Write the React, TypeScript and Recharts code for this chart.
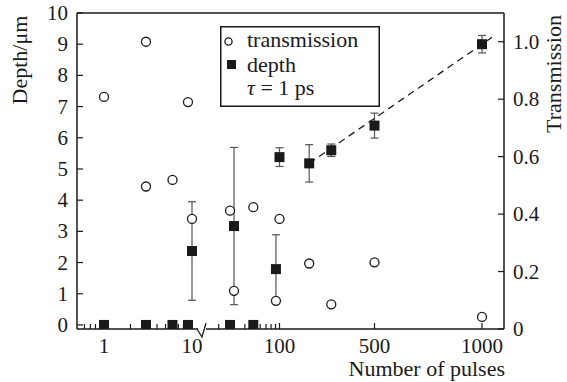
import { ScatterChart, Scatter, XAxis, YAxis, ErrorBar, ReferenceLine, Legend } from 'recharts';

const FONT = '"Liberation Serif", "DejaVu Serif", serif';
const INK = '#1a1a1a';

// число импульсов -> позиция на оси (ось с разрывом, нелинейная)
const majorTicks = [1, 10, 100, 500, 1000];
const minorTicks = [0.6, 0.7, 0.8, 0.9, 2, 3, 4, 5, 6, 7, 8, 9, 20, 30, 40, 50, 60, 70, 80, 90];

// depth (µm), left axis
const depthPulses = [1, 3, 6, 9, 10, 27, 30, 50, 91, 100, 225, 318, 500, 1000];
const depthValues = [0, 0, 0, 0, 2.37, 0, 3.17, 0, 1.79, 5.38, 5.18, 5.6, 6.39, 9.0];
const depthErrors = [0, 0, 0, 0, 1.58, 0, 2.52, 0, 1.1, 0.3, 0.6, 0.2, 0.4, 0.28];

// transmission, right axis
const transPulses = [1, 3, 3, 6, 9, 10, 27, 30, 50, 91, 100, 225, 318, 500, 1000];
const transValues = [0.808, 1.0, 0.496, 0.519, 0.79, 0.383, 0.412, 0.133, 0.424, 0.098, 0.383, 0.228, 0.086, 0.232, 0.042];

// dashed fit
const fitPulses = [225, 1047];
const fitDepth = [5.18, 9.22];

const leftTicks = [0, 1, 2, 3, 4, 5, 6, 7, 8, 9, 10];
const rightTicks = [0, 0.2, 0.4, 0.6, 0.8, 1.0];

const BREAK_POS = 126;

function xPos(n: number): number {
    if (n <= 12) return 27 + 88 * Math.log10(n);
    if (n <= 100) return 202.5 + 87 * Math.log10(n / 100);
    if (n <= 500) return 202.5 + ((n - 100) / 400) * 95;
    return 297.5 + ((n - 500) / 500) * 107.5;
}

const depthData = depthPulses.map((n, i) => ({ u: xPos(n), y: depthValues[i], err: depthErrors[i] }));
const transData = transPulses.map((n, i) => ({ u: xPos(n), y: transValues[i] }));
const fitData = fitPulses.map((n, i) => ({ u: xPos(n), y: fitDepth[i] }));

const tickLabels = new Map<number, string>();
majorTicks.forEach(n => tickLabels.set(xPos(n), String(n)));
const xTicks = [...minorTicks.map(xPos), ...majorTicks.map(xPos), BREAK_POS];

const XTick = (props: any) => {
    const { x, y, payload } = props;
    const v = payload.value;
    if (v === BREAK_POS) {
        return (
            <g>
                <rect x={x - 5} y={y - 2} width={8} height={4} fill="#fff" />
                <polyline
                    points={`${x - 6},${y} ${x - 1},${y + 8} ${x + 3},${y - 6}`}
                    fill="none"
                    stroke={INK}
                    strokeWidth={1.3}
                />
            </g>
        );
    }
    const label = tickLabels.get(v);
    return (
        <g>
            <line x1={x} x2={x} y1={y} y2={y - (label ? 6 : 5)} stroke={INK} strokeWidth={1.2} />
            {label && (
                <text x={x} y={y + 24} textAnchor="middle" fontFamily={FONT} fontSize={21} fill={INK}>
                    {label}
                </text>
            )}
        </g>
    );
};

const LeftTick = (props: any) => {
    const { x, y, payload } = props;
    return (
        <g>
            <line x1={x} x2={x + 6} y1={y} y2={y} stroke={INK} strokeWidth={1.2} />
            <text x={x - 9} y={y + 7} textAnchor="end" fontFamily={FONT} fontSize={21} fill={INK}>
                {payload.value}
            </text>
        </g>
    );
};

const RightTick = (props: any) => {
    const { x, y, payload } = props;
    const v = payload.value;
    return (
        <g>
            <line x1={x - 6} x2={x} y1={y} y2={y} stroke={INK} strokeWidth={1.2} />
            <text x={x + 9} y={y + 7} textAnchor="start" fontFamily={FONT} fontSize={21} fill={INK}>
                {v === 0 ? '0' : v.toFixed(1)}
            </text>
        </g>
    );
};

const Square = (props: any) => {
    const { cx, cy } = props;
    return <rect x={cx - 5} y={cy - 5} width={10} height={10} fill={INK} />;
};

const Ring = (props: any) => {
    const { cx, cy } = props;
    return <circle cx={cx} cy={cy} r={4.5} fill="#fff" stroke={INK} strokeWidth={1.3} />;
};

const LegendBox = () => (
    <svg width={160} height={81} style={{ display: 'block' }}>
        <rect x={0.75} y={0.75} width={158.5} height={79.5} fill="#fff" stroke={INK} strokeWidth={1.5} />
        <circle cx={8.5} cy={15.5} r={3.6} fill="#fff" stroke={INK} strokeWidth={1.3} />
        <text x={27} y={21} fontFamily={FONT} fontSize={22} fill={INK}>transmission</text>
        <rect x={7} y={34} width={9} height={9} fill={INK} />
        <text x={27} y={46} fontFamily={FONT} fontSize={22} fill={INK}>depth</text>
        <text x={27} y={69} fontFamily={FONT} fontSize={22} fill={INK}>
            <tspan fontStyle="italic">τ</tspan> = 1 ps
        </text>
    </svg>
);

export default function App() {
    return (
        <div style={{ position: 'absolute', left: 0, top: 0, background: '#fff' }}>
            <ScatterChart width={567} height={382} margin={{ top: 13, right: 0, bottom: 0, left: 0 }}>
                <XAxis
                    type="number"
                    dataKey="u"
                    domain={[0, 427]}
                    ticks={xTicks}
                    interval={0}
                    height={53}
                    tickSize={0}
                    tickMargin={0}
                    tickLine={false}
                    tick={XTick}
                    axisLine={{ stroke: INK, strokeWidth: 1.5 }}
                    allowDataOverflow
                    label={() => (
                        <text x={505} y={376} textAnchor="end" fontFamily={FONT} fontSize={22} fill={INK}>
                            Number of pulses
                        </text>
                    )}
                />
                <YAxis
                    yAxisId="left"
                    type="number"
                    dataKey="y"
                    domain={[-0.13, 10]}
                    ticks={leftTicks}
                    interval={0}
                    width={77}
                    tickSize={0}
                    tickMargin={0}
                    tickLine={false}
                    tick={LeftTick}
                    axisLine={{ stroke: INK, strokeWidth: 1.5 }}
                    allowDataOverflow
                    label={() => (
                        <text
                            x={27}
                            y={60}
                            transform="rotate(-90 27 60)"
                            textAnchor="middle"
                            fontFamily={FONT}
                            fontSize={22}
                            fill={INK}
                        >
                            Depth/μm
                        </text>
                    )}
                />
                <YAxis
                    yAxisId="right"
                    orientation="right"
                    type="number"
                    dataKey="y"
                    domain={[0, 1.1]}
                    ticks={rightTicks}
                    interval={0}
                    width={63}
                    tickSize={0}
                    tickMargin={0}
                    tickLine={false}
                    tick={RightTick}
                    axisLine={{ stroke: INK, strokeWidth: 1.5 }}
                    allowDataOverflow
                    label={() => (
                        <text
                            x={561}
                            y={74}
                            transform="rotate(-90 561 74)"
                            textAnchor="middle"
                            fontFamily={FONT}
                            fontSize={22}
                            fill={INK}
                        >
                            Transmission
                        </text>
                    )}
                />
                <ReferenceLine yAxisId="left" y={10} stroke={INK} strokeWidth={1.5} />
                <Legend
                    layout="horizontal"
                    verticalAlign="middle"
                    align="center"
                    wrapperStyle={{ left: 220, top: 26, width: 160, height: 81 }}
                    content={() => <LegendBox />}
                />
                <Scatter
                    yAxisId="left"
                    data={fitData}
                    line={{ stroke: INK, strokeWidth: 1.3, strokeDasharray: '7 5' }}
                    shape={() => <g />}
                    isAnimationActive={false}
                    legendType="none"
                />
                <Scatter yAxisId="right" data={transData} shape={Ring} isAnimationActive={false} />
                <Scatter yAxisId="left" data={depthData} shape={Square} isAnimationActive={false}>
                    <ErrorBar dataKey="err" direction="y" width={4} stroke="#555" strokeWidth={1.2} />
                </Scatter>
            </ScatterChart>
        </div>
    );
}
